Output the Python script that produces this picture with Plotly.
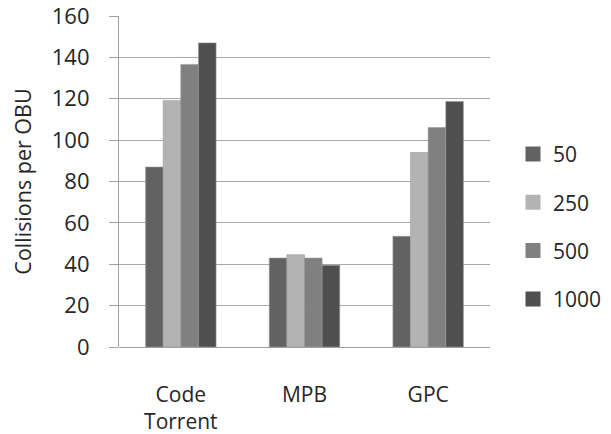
import plotly.graph_objects as go

categories = ["Code<br>Torrent", "MPB", "GPC"]
series_names = ["50", "250", "500", "1000"]
values_50 = [87, 43, 53.5]
values_250 = [119.2, 44.6, 94]
values_500 = [136.6, 43, 106.1]
values_1000 = [147, 39.5, 118.7]
y_ticks = [0, 20, 40, 60, 80, 100, 120, 140, 160]

colors = ["#626262", "#b3b3b3", "#808080", "#4f4f4f"]
all_values = [values_50, values_250, values_500, values_1000]

FONT = "Open Sans"
TXT = "#262626"

fig = go.Figure()
for i, (name, vals) in enumerate(zip(series_names, all_values)):
    fig.add_trace(go.Bar(
        x=categories, y=vals, name=name,
        marker=dict(color=colors[i], line=dict(color="#9a9a9a", width=0.6)),
        showlegend=False,
    ))
# legend entries with larger square swatches
for i, name in enumerate(series_names):
    fig.add_trace(go.Scatter(
        x=[categories[0]], y=[None], mode="markers", name=name,
        marker=dict(symbol="square", size=15, color=colors[i]),
        legendgroup=name, showlegend=True, hoverinfo="skip",
    ))

fig.update_layout(
    width=611, height=434,
    margin=dict(l=111, r=129, t=8, b=95, autoexpand=False),
    paper_bgcolor="white", plot_bgcolor="white",
    barmode="group", bargap=0.43, bargroupgap=0,
    font=dict(family=FONT, size=22, color=TXT),
    showlegend=True,
    legend=dict(x=1.062, y=0.363, yanchor="middle", xanchor="left",
                font=dict(family=FONT, size=21, color=TXT),
                tracegroupgap=18, bgcolor="rgba(0,0,0,0)", itemwidth=30),
    xaxis=dict(showgrid=False, showline=False, ticks="", automargin=False,
               ticklabelstandoff=33,
               tickfont=dict(family=FONT, size=21, color=TXT)),
    yaxis=dict(range=[0, 160], tickvals=y_ticks, showgrid=True, automargin=False,
               ticklabeloverflow="allow",
               gridcolor="#a8a8a8", gridwidth=1.2,
               showline=True, linecolor="#a0a0a0", linewidth=1.2,
               ticks="outside", ticklen=9, tickcolor="#a0a0a0", tickwidth=1.2,
               ticklabelstandoff=15,
               zeroline=True, zerolinecolor="#a0a0a0", zerolinewidth=1.2,
               tickfont=dict(family=FONT, size=22, color=TXT),
               title=dict(text="Collisions per OBU", standoff=30,
                          font=dict(family=FONT, size=21.5, color=TXT))),
)

fig.write_html("out.html")
